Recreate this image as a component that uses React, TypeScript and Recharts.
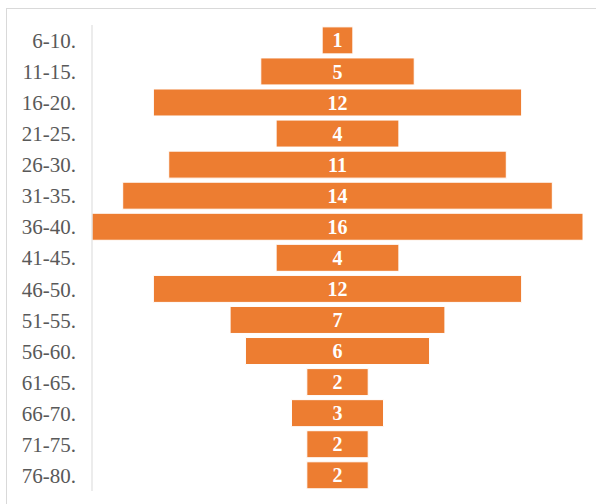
import { BarChart, Bar, XAxis, YAxis, LabelList } from 'recharts';

const ageGroups = ['6-10.', '11-15.', '16-20.', '21-25.', '26-30.', '31-35.', '36-40.', '41-45.', '46-50.', '51-55.', '56-60.', '61-65.', '66-70.', '71-75.', '76-80.'];
const counts = [1, 5, 12, 4, 11, 14, 16, 4, 12, 7, 6, 2, 3, 2, 2];

const maxCount = Math.max(...counts);

// invisible spacer bar centers each value bar
const data = ageGroups.map((name, i) => ({
  name,
  spacer: (maxCount - counts[i]) / 2,
  value: counts[i],
}));

export default function App() {
  return (
    <div style={{ position: 'fixed', left: 0, top: 0, width: 596, height: 504, background: '#fff', overflow: 'hidden' }}>
      <div style={{ position: 'absolute', left: 6, top: 8, width: 620, height: 520, border: '1px solid #d9d9d9' }} />
      <div style={{ position: 'absolute', left: 0, top: 0 }}>
        <BarChart
          width={596}
          height={504}
          data={data}
          layout="vertical"
          margin={{ top: 25, right: 13, bottom: 13, left: 0 }}
          barCategoryGap="6%"
        >
          <XAxis type="number" domain={[0, maxCount]} hide />
          <YAxis
            type="category"
            dataKey="name"
            width={92}
            axisLine={{ stroke: '#d9d9d9' }}
            tickLine={false}
            tickSize={0}
            tickMargin={16}
            interval={0}
            tick={{ fill: '#595959', fontSize: 21, fontFamily: '"Liberation Serif", serif' }}
          />
          <Bar dataKey="spacer" stackId="a" fill="transparent" isAnimationActive={false} />
          <Bar dataKey="value" stackId="a" fill="#ed7d31" stroke="#ffffff" strokeWidth={1} isAnimationActive={false}>
            <LabelList
              dataKey="value"
              position="center"
              fill="#ffffff"
              style={{ fontSize: 20, fontWeight: 'bold', fontFamily: '"Liberation Serif", serif' }}
            />
          </Bar>
        </BarChart>
      </div>
    </div>
  );
}
